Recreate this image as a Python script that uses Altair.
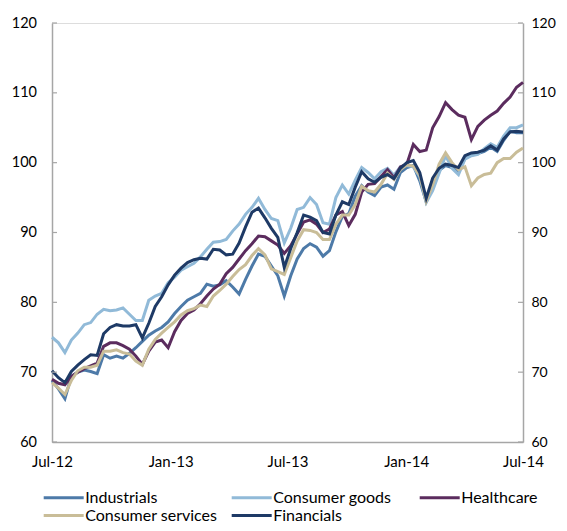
import altair as alt
import pandas as pd

# Index levels, roughly every 10 days from 1 Jul 2012 to 1 Jul 2014
dates = pd.date_range("2012-07-01", periods=74, freq="10D").strftime("%Y-%m-%dT00:00:00").tolist()

industrials = [
    68.8, 67.6, 66.2, 69.4, 70.0, 70.3, 70.1, 69.8, 72.5, 72.0,
    72.3, 72.0, 72.7, 73.5, 74.4, 75.3, 75.9, 76.4, 77.2, 78.4,
    79.4, 80.3, 80.8, 81.3, 82.6, 82.3, 82.5, 83.1, 82.2, 81.2,
    83.3, 85.2, 86.9, 86.6, 85.2, 83.8, 80.9, 83.8, 86.2, 87.7,
    88.4, 87.9, 86.6, 87.4, 90.1, 92.3, 92.7, 95.2, 96.7, 95.8,
    95.3, 96.5, 96.8, 96.2, 98.6, 99.3, 99.6, 97.4, 94.4, 96.4,
    98.9, 99.6, 99.3, 98.8, 100.6, 101.1, 101.3, 101.6, 102.2, 101.6,
    103.2, 104.5, 104.3, 104.3,
]
consumer_goods = [
    75.0, 74.2, 72.8, 74.6, 75.6, 76.8, 77.1, 78.3, 79.0, 78.8,
    78.9, 79.2, 78.3, 77.4, 77.4, 80.3, 80.9, 81.3, 82.8, 83.6,
    84.6, 85.1, 85.6, 86.5, 87.6, 88.6, 88.7, 89.0, 90.2, 91.2,
    92.6, 93.6, 94.9, 93.3, 92.0, 91.7, 88.5, 90.6, 93.3, 93.6,
    95.0, 94.0, 91.4, 91.2, 95.0, 96.8, 95.5, 97.5, 99.3, 98.6,
    97.7, 98.7, 99.2, 98.2, 99.4, 99.6, 99.4, 98.0, 94.3, 96.0,
    98.5, 101.0, 99.2, 98.3, 100.5, 101.0, 101.2, 102.0, 102.7, 102.2,
    103.8, 105.0, 105.0, 105.4,
]
healthcare = [
    69.0, 68.4, 68.2, 69.4, 70.0, 70.5, 70.9, 71.3, 73.7, 74.2,
    74.2, 73.8, 73.3, 72.3, 71.1, 73.0, 74.3, 74.6, 73.5, 75.8,
    77.4, 78.4, 78.9, 79.8, 80.9, 81.9, 82.6, 84.1, 85.0, 86.2,
    87.4, 88.4, 89.5, 89.4, 88.8, 88.2, 87.0, 88.1, 89.8, 91.5,
    91.8, 91.2, 90.0, 90.5, 92.5, 93.0, 91.0, 92.6, 95.8, 96.9,
    97.0, 98.0, 99.0, 97.8, 99.4, 99.8, 102.6, 101.6, 101.8, 105.0,
    106.6, 108.6, 107.6, 106.8, 106.5, 103.3, 105.2, 106.1, 106.8, 107.4,
    108.5, 109.4, 110.8, 111.5,
]
consumer_services = [
    68.5, 67.7, 66.8, 68.8, 70.2, 70.7, 70.7, 71.0, 73.0, 73.0,
    73.2, 72.8, 72.6, 71.6, 71.0, 73.3, 74.7, 75.6, 76.4, 77.2,
    78.2, 78.8, 79.1, 79.6, 79.4, 80.9, 81.7, 82.6, 83.7, 84.7,
    85.4, 86.7, 87.7, 86.8, 84.8, 84.4, 84.0, 86.4, 88.8, 90.4,
    90.3, 90.0, 89.0, 89.0, 91.2, 92.5, 92.5, 94.0, 96.6, 96.0,
    95.8, 96.9, 98.5, 97.6, 99.0, 99.7, 99.5, 98.2, 94.5, 96.8,
    99.8, 101.4, 100.0, 99.0, 99.4, 96.7, 97.8, 98.3, 98.5, 100.0,
    100.6, 100.6, 101.5, 102.1,
]
financials = [
    70.2, 69.2, 68.5, 70.1, 71.0, 71.8, 72.5, 72.4, 75.5, 76.4,
    76.8, 76.6, 76.6, 76.8, 74.9, 77.0, 79.4, 80.8, 82.5, 83.9,
    84.9, 85.7, 86.1, 86.3, 86.2, 87.6, 87.5, 86.8, 86.9, 88.5,
    90.8, 92.9, 93.5, 92.1, 90.6, 89.3, 85.0, 87.7, 90.0, 92.5,
    92.2, 91.7, 90.0, 89.8, 92.5, 94.4, 94.0, 96.5, 98.7, 97.7,
    97.2, 97.9, 98.3, 97.7, 99.2, 100.0, 100.3, 98.6, 94.9, 97.8,
    99.2, 99.8, 99.6, 99.3, 101.0, 101.4, 101.5, 101.8, 102.4, 101.8,
    103.4, 104.4, 104.5, 104.4,
]

series_names = ["Industrials", "Consumer goods", "Healthcare", "Consumer services", "Financials"]
series_colors = ["#4d7aa8", "#91bad8", "#5b2c5e", "#c9bd98", "#1e3a66"]
series_values = [industrials, consumer_goods, healthcare, consumer_services, financials]
y_ticks = [60, 70, 80, 90, 100, 110, 120]

rows = []
for name, vals in zip(series_names, series_values):
    for d, v in zip(dates, vals):
        rows.append({"date": d, "series": name, "value": v})
df = pd.DataFrame(rows)
ticks_df = pd.DataFrame({"tick": y_ticks})

FONT = "Lato"
AX = "#a6a6a6"

x_vals = [
    alt.DateTime(year=2012, month=7, date=1),
    alt.DateTime(year=2013, month=1, date=1),
    alt.DateTime(year=2013, month=7, date=1),
    alt.DateTime(year=2014, month=1, date=1),
    alt.DateTime(year=2014, month=7, date=1),
]
x_enc = alt.X(
    "date:T",
    scale=alt.Scale(domain=[x_vals[0], x_vals[-1]]),
    axis=alt.Axis(values=x_vals, format="%b-%y", ticks=False, grid=False,
                  domainColor=AX, domainWidth=1.5, labelFontSize=15, labelFont=FONT,
                  labelColor="#000", labelPadding=12, labelFlush=False,
                  labelOverlap=False, title=None),
)
y_scale = alt.Scale(domain=[60, 120], nice=False, zero=False)
left_axis = alt.Axis(orient="left", values=y_ticks, ticks=False, grid=False,
                     domainColor=AX, domainWidth=1.5, labelFontSize=14.5, labelFont=FONT,
                     labelColor="#000", labelPadding=15.5, title=None)
right_axis = alt.Axis(orient="right", values=y_ticks, ticks=False, grid=False,
                      domainColor=AX, domainWidth=1.5, labelFontSize=14, labelFont=FONT,
                      labelColor="#000", labelPadding=8, title=None)

legend = alt.Legend(orient="none", legendX=2.2, legendY=465, direction="horizontal",
                    columns=3, gridAlign="all",
                    columnPadding=7, rowPadding=-4, symbolType="M-2.5,0H2.5", symbolSize=256,
                    symbolStrokeWidth=3, labelFontSize=16, labelFont=FONT, labelColor="#000",
                    labelOffset=12, title=None, padding=0)
color_enc = alt.Color("series:N", scale=alt.Scale(domain=series_names, range=series_colors),
                      legend=legend)

layers = []
for name in series_names:
    layers.append(
        alt.Chart(df).transform_filter(alt.datum.series == name)
        .mark_line(strokeWidth=3)
        .encode(x=x_enc, y=alt.Y("value:Q", scale=y_scale, axis=left_axis), color=color_enc)
    )

left_ticks = alt.Chart(ticks_df).mark_rule(color=AX, strokeWidth=1.2).encode(
    y=alt.Y("tick:Q", scale=y_scale, axis=left_axis), x=alt.value(0), x2=alt.value(5))
right_ticks = alt.Chart(ticks_df).mark_rule(color=AX, strokeWidth=1.2).encode(
    y=alt.Y("tick:Q", scale=y_scale, axis=right_axis), x=alt.value(466), x2=alt.value(471))

inner = alt.layer(*layers, left_ticks)
chart = alt.layer(inner, right_ticks).resolve_axis(y="independent").properties(
    width=471, height=419,
    autosize=alt.AutoSizeParams(type="none"),
    padding={"left": 44, "top": 15, "right": 36, "bottom": 80},
).configure_view(stroke=None).configure(font=FONT)

chart.save("out.html", embed_options={"renderer": "svg", "actions": False})
